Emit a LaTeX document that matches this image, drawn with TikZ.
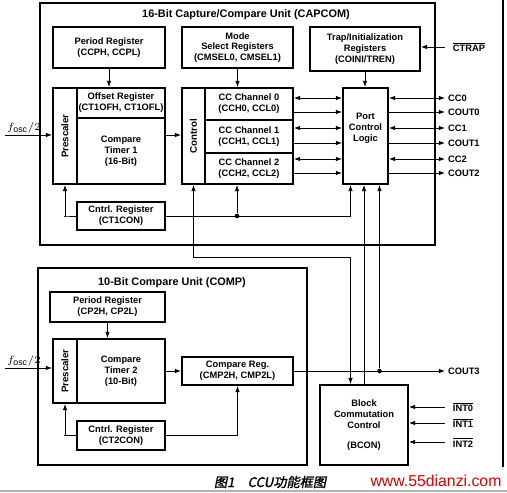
\documentclass[tikz,border=0pt]{standalone}
\usepackage{fontspec}
\setmainfont{Liberation Sans}
\newfontfamily\cjk[FakeSlant=0.2,FakeBold=1.5]{Noto Sans CJK SC}
\usetikzlibrary{fit,calc,arrows.meta}

\begin{document}
\begin{tikzpicture}[x=0.02cm,y=-0.02cm,
  box/.style={draw,line width=1.1pt,inner sep=0pt},
  lbl/.style={align=center,inner sep=0pt,font=\fontsize{5.3}{6.2}\selectfont\bfseries},
  unit/.style={draw,line width=0.9pt,inner sep=0pt},
  title/.style={font=\fontsize{6.2}{7}\selectfont\bfseries},
  vlabel/.style={rotate=90,font=\fontsize{5.5}{6}\selectfont\bfseries},
  arr/.style={-{Latex[length=3.5pt,width=2.6pt]},line width=0.5pt},
  barr/.style={{Latex[length=3.5pt,width=2.6pt]}-{Latex[length=3.5pt,width=2.6pt]},line width=0.5pt},
  sig/.style={font=\fontsize{5.3}{6}\selectfont\bfseries,anchor=west,inner sep=1.5pt},
  dot/.style={circle,fill,inner sep=0pt,minimum size=2.6pt}]
\useasboundingbox (0,0) rectangle (507,493);

\node[unit,fit={(40,3)(435,245)}] (capcon) {};
\node[title] (capconT) at (246,15) {16-Bit Capture/Compare Unit (CAPCOM)};
\node[box,fit={(53,27)(165,68)},label={[lbl]center:Period Register\\(CCPH, CCPL)}] (perA) {};
\node[box,fit={(182,27)(293,68)},label={[lbl]center:Mode\\Select Registers\\(CMSEL0, CMSEL1)}] (modesel) {};
\node[box,fit={(310,27)(420,71)},label={[lbl]center:Trap/Initialization\\Registers\\(COINI/TREN)}] (trapreg) {};
\node[box,fit={(53,88)(77,184)}] (preA) {};
\node[vlabel] (preAT) at (preA.center) {Prescaler};
\node[box,fit={(77,88)(165,118)},label={[lbl]center:Offset Register\\(CT1OFH, CT1OFL)}] (offA) {};
\node[box,fit={(77,118)(165,184)},label={[lbl]center:Compare\\Timer 1\\(16-Bit)}] (timA) {};
\node[box,fit={(182,88)(205,184)}] (ctrlA) {};
\node[vlabel] (ctrlAT) at (ctrlA.center) {Control};
\node[box,fit={(205,88)(293,120)},label={[lbl]center:CC Channel 0\\(CCH0, CCL0)}] (cc0) {};
\node[box,fit={(205,120)(293,153)},label={[lbl]center:CC Channel 1\\(CCH1, CCL1)}] (cc1) {};
\node[box,fit={(205,153)(293,184)},label={[lbl]center:CC Channel 2\\(CCH2, CCL2)}] (cc2) {};
\node[box,fit={(343,88)(388,184)}] (port) {};
\node[lbl] (portT) at ($(port.center)+(0,-8)$) {Port\\Control\\Logic};
\node[box,fit={(77,202)(165,230)},label={[lbl]center:Cntrl. Register\\(CT1CON)}] (cntA) {};

\node[unit,fit={(38,268)(307,465)}] (comp) {};
\node[title] (compT) at (172,283) {10-Bit Compare Unit (COMP)};
\node[box,fit={(50,292)(165,322)},label={[lbl]center:Period Register\\(CP2H, CP2L)}] (perB) {};
\node[box,fit={(53,339)(77,403)}] (preB) {};
\node[vlabel] (preBT) at (preB.center) {Prescaler};
\node[box,fit={(77,339)(165,403)},label={[lbl]center:Compare\\Timer 2\\(10-Bit)}] (timB) {};
\node[box,fit={(182,357)(293,385)},label={[lbl]center:Compare Reg.\\(CMP2H, CMP2L)}] (cmpB) {};
\node[box,fit={(77,421)(165,450)},label={[lbl]center:Cntrl. Register\\(CT2CON)}] (cntB) {};
\node[box,fit={(320,385)(408,465)},label={[lbl]center:Block\\Commutation\\Control\\[5pt](BCON)}] (bcon) {};

\coordinate (outx) at (445,0);
\coordinate (foscA) at (5,135);
\coordinate (foscB) at (5,368);
\coordinate (ctrapin) at (445,47);
\coordinate (pA) at ($(port.south)+(-15,0)$);
\coordinate (pB) at ($(port.south)+(14,0)$);

\draw[arr] (perA.south) -- (perA.south |- offA.north);
\draw[arr] (modesel.south) -- (modesel.south |- cc0.north);
\draw[arr] (trapreg.south) -- (trapreg.south |- port.north);
\draw[arr] (ctrapin) -- (ctrapin -| trapreg.east);
\node[sig] (ctrap) at ($(ctrapin)+(5,0)$) {$\overline{\mbox{CTRAP}}$};
\draw[arr] (foscA) -- (foscA -| preA.west);
\node[anchor=south west,inner sep=1pt,font=\fontsize{6}{7}\selectfont] (foscAT) at (foscA) {$f_{\mathrm{osc}}/2$};
\draw[arr] (timA.east |- foscA) -- (ctrlA.west |- foscA);

\foreach \c/\ya/\yb [count=\i from 0] in {cc0/98/112,cc1/128/143,cc2/159/173}{
  \draw[barr] (\c.east |- 0,\ya) -- (port.west |- 0,\ya);
  \draw[arr] (\c.east |- 0,\yb) -- (port.west |- 0,\yb);
  \draw[barr] (port.east |- 0,\ya) -- (outx |- 0,\ya) node[sig] (ccout\i) {CC\i};
  \draw[arr] (port.east |- 0,\yb) -- (outx |- 0,\yb) node[sig] (coutout\i) {COUT\i};
}

\draw[arr] (cntA.west) -- ++(-12,0) -| (preA.south);
\draw[arr] (cntA.east) -| (pA);
\node[dot] (jA) at (237,216) {};
\draw[arr] (jA) -- (jA |- cc2.south);
\draw[barr] (ctrlA.south) -- (ctrlA.south |- 0,257) -| (bcon.north -| pA);
\draw[arr] (bcon.north) -- (bcon.north |- port.south);

\draw[arr] (perB.south) -- (perB.south |- timB.north);
\draw[arr] (foscB) -- (foscB -| preB.west);
\node[anchor=south west,inner sep=1pt,font=\fontsize{6}{7}\selectfont] (foscBT) at (foscB) {$f_{\mathrm{osc}}/2$};
\draw[arr] (timB.east) -- (cmpB.west);
\draw[arr] (cntB.west) -- ++(-12,0) -| (preB.south);
\draw[arr] (cntB.east) -| (cmpB.south);
\draw[arr] (cmpB.east) -- (cmpB.east -| outx) node[sig] (cout3) {COUT3};
\node[dot] (jB) at (pB |- cmpB.east) {};
\draw[arr] (jB) -- (pB);

\foreach \y [count=\i from 0] in {407,423,442}{
  \coordinate (int\i) at (445,\y);
  \draw[arr] (int\i) -- (int\i -| bcon.east);
  \node[sig] (intl\i) at ($(int\i)+(5,0)$) {$\overline{\mbox{INT\i}}$};
}

\draw[line width=0.8pt] (503,0) -- (503,467);
\draw[gray!60,line width=1pt] (0,491) -- (507,491);
\node[font=\fontsize{7.5}{8}\selectfont] (cap) at (270,482) {\cjk 图1\quad CCU功能框图};
\node[text=red!85!black,font=\fontsize{9}{10}\selectfont] (wm) at (436,481) {www.55dianzi.com};
\end{tikzpicture}
\end{document}
